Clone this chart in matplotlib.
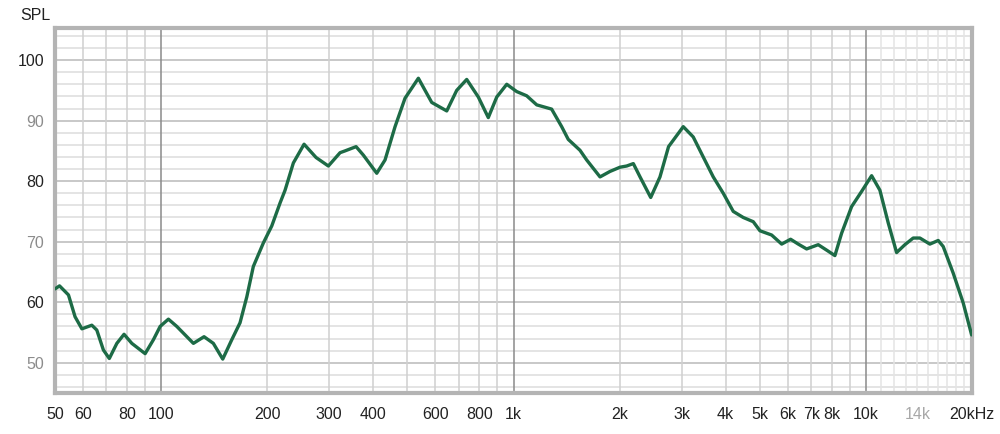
import numpy as np
import matplotlib
matplotlib.use("Agg")
import matplotlib.pyplot as plt

# frequency response (Hz, dB SPL)
freq = [50.0, 51.5, 54.6, 57.0, 59.6, 63.6, 65.7, 68.6, 71.3, 74.9, 78.5, 82.6,
        90.1, 95.1, 99.4, 104.9, 110.8, 123.5, 132.4, 140.7, 149.6, 158.7,
        167.5, 175.1, 182.7, 195.1, 206.1, 217.6, 224.8, 237.3, 254.5, 275.3,
        298.3, 322.0, 332.7, 357.5, 374.9, 409.2, 432.0, 461.2, 492.3, 537.1,
        586.1, 646.5, 690.1, 736.6, 794.6, 848.2, 896.4, 956.8, 1021, 1090,
        1164, 1283, 1370, 1430, 1544, 1613, 1760, 1878, 2005, 2095, 2188, 2286,
        2451, 2604, 2754, 3032, 3236, 3454, 3688, 3937, 4203, 4486, 4790, 5004,
        5401, 5767, 6114, 6427, 6788, 7323, 7737, 8166, 8533, 9109, 9723,
        10380, 10957, 11570, 12220, 12900, 13620, 14230, 15190, 16040, 16570,
        17690, 18880, 19950]
spl = [62.2, 62.7, 61.2, 57.6, 55.6, 56.2, 55.4, 52.1, 50.7, 53.2, 54.7, 53.2,
       51.5, 53.8, 56.0, 57.2, 56.0, 53.2, 54.3, 53.2, 50.6, 53.8, 56.6, 60.9,
       65.9, 69.8, 72.6, 76.4, 78.5, 83.0, 86.1, 83.9, 82.5, 84.7, 85.0, 85.7,
       84.3, 81.3, 83.5, 89.0, 93.7, 97.0, 93.0, 91.6, 95.0, 96.8, 93.9, 90.5,
       93.9, 96.0, 94.8, 94.1, 92.6, 91.9, 89.0, 86.9, 85.1, 83.5, 80.7, 81.6,
       82.3, 82.5, 82.9, 80.7, 77.3, 80.7, 85.7, 89.0, 87.3, 84.0, 80.7, 78.0,
       75.0, 74.0, 73.3, 71.8, 71.1, 69.6, 70.4, 69.6, 68.8, 69.5, 68.6, 67.7,
       71.4, 75.8, 78.3, 80.9, 78.5, 73.1, 68.2, 69.5, 70.6, 70.6, 69.6, 70.2,
       69.2, 64.8, 59.9, 54.6]

xtick_vals = [50, 60, 80, 100, 200, 300, 400, 600, 800, 1000, 2000, 3000, 4000,
              5000, 6000, 7000, 8000, 10000, 14000, 20000]
xtick_labels = ["50", "60", "80", "100", "200", "300", "400", "600", "800", "1k",
                "2k", "3k", "4k", "5k", "6k", "7k", "8k", "10k", "14k", "20kHz"]
ytick_vals = [50, 60, 70, 80, 90, 100]

plt.rcParams['font.family'] = ['Liberation Sans', 'DejaVu Sans']

fig = plt.figure(figsize=(10, 4.34), dpi=100)
ax = fig.add_axes([0.055, 1 - 393 / 434, 0.917, (393 - 28) / 434])
ax.set_xscale('log')
ax.set_xlim(50, 20000)
ax.set_ylim(45, 105.3)

# grid
for y in range(46, 106, 2):
    c = '#c4c4c4' if y % 10 == 0 else '#e2e2e2'
    ax.axhline(y, color=c, lw=1.3, zorder=1)
minor_v = [60, 70, 80, 90] + list(range(200, 1000, 100)) + list(range(2000, 10000, 1000))
for x in minor_v:
    ax.axvline(x, color='#d0d0d0', lw=1.1, zorder=1)
for x in range(11000, 20000, 1000):
    ax.axvline(x, color='#e4e4e4', lw=1.1, zorder=1)
for x in [100, 1000, 10000]:
    ax.axvline(x, color='#8a8a8a', lw=1.1, zorder=1)

ax.plot(freq, spl, color='#1d6b46', lw=2.4, zorder=3,
        solid_capstyle='round', solid_joinstyle='round')

ax.xaxis.set_minor_locator(matplotlib.ticker.NullLocator())
ax.set_xticks(xtick_vals)
ax.set_xticklabels(xtick_labels)
ax.set_yticks(ytick_vals)
ax.set_yticklabels([str(v) for v in ytick_vals])
ax.tick_params(axis='both', length=0, labelsize=11.5)
ax.tick_params(axis='x', pad=10)
ax.tick_params(axis='y', pad=8)
for lab in ax.get_xticklabels():
    lab.set_color('#a8a8a8' if lab.get_text() == '14k' else '#222222')
for lab, v in zip(ax.get_yticklabels(), ytick_vals):
    lab.set_color('#222222' if v % 20 == 0 else '#8c8c8c')

for sp in ax.spines.values():
    sp.set_color('#b4b4b4')
    sp.set_linewidth(3)

fig.text(0.020, 1 - 16 / 434, 'SPL', fontsize=11.5, color='#222222', va='center', ha='left')

fig.savefig('out.png', dpi=100, facecolor='white')
